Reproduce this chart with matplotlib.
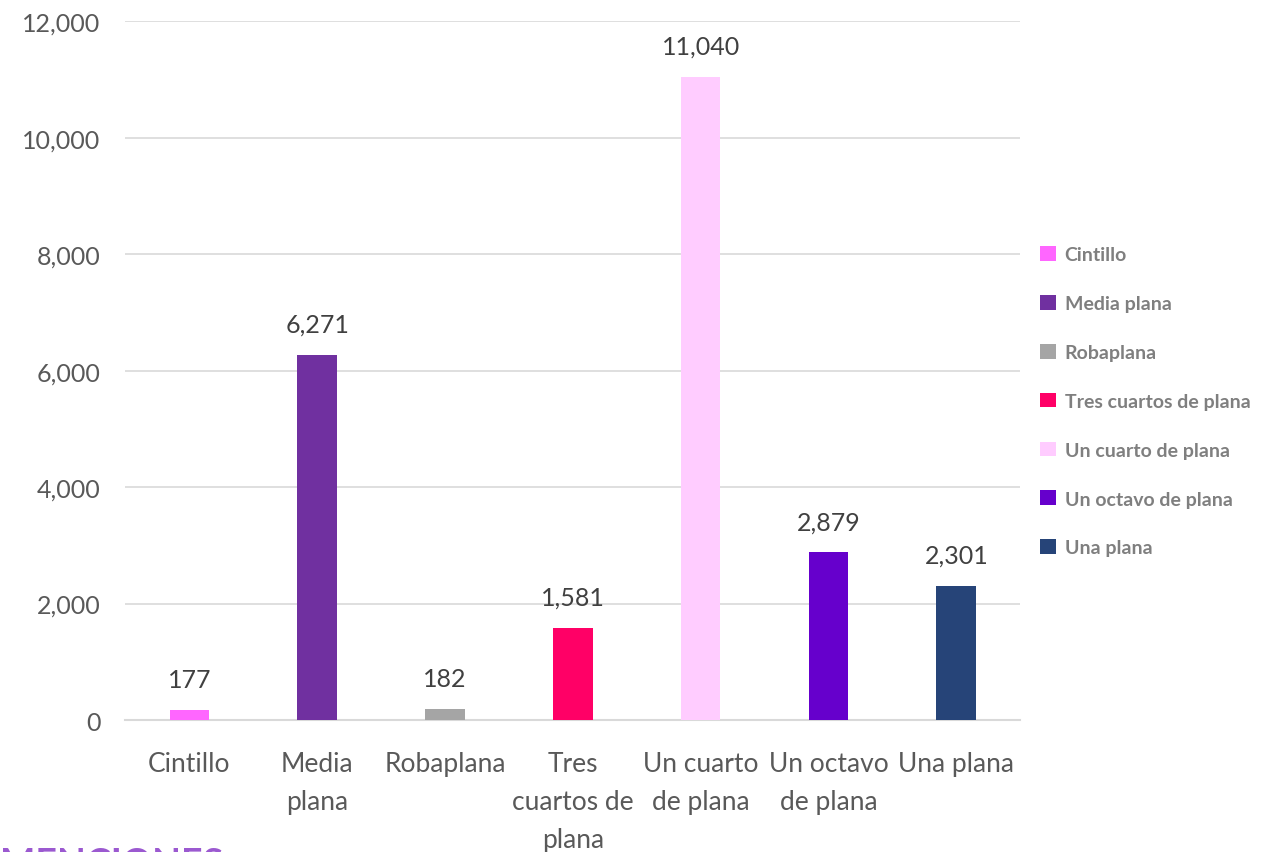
import matplotlib.pyplot as plt
from matplotlib.patches import Patch

# Data
categories = ['Cintillo', 'Media plana', 'Robaplana', 'Tres cuartos de plana',
              'Un cuarto de plana', 'Un octavo de plana', 'Una plana']
tick_labels = ['Cintillo', 'Media\nplana', 'Robaplana', 'Tres\ncuartos de\nplana',
               'Un cuarto\nde plana', 'Un octavo\nde plana', 'Una plana']
values = [177, 6271, 182, 1581, 11040, 2879, 2301]
colors = ['#FF66FF', '#7030A0', '#A5A5A5', '#FF0066', '#FFCCFF', '#6600CC', '#264478']

plt.rcParams['font.family'] = ['Lato', 'DejaVu Sans']

fig = plt.figure(figsize=(12.8, 8.53), dpi=100)
ax = fig.add_axes([0.098, 0.1547, 0.699, 0.8193])

x = range(len(categories))
bars = ax.bar(x, values, width=0.31, color=colors, zorder=3)

for xi, v in zip(x, values):
    ax.text(xi, v + 330, f'{v:,}', ha='center', va='bottom', fontsize=18, color='#404040')

ax.set_xlim(-0.5, 6.5)
ax.set_ylim(0, 12000)
ax.set_yticks(range(0, 12001, 2000))
ax.set_yticklabels([f'{t:,}' for t in range(0, 12001, 2000)], fontsize=18, color='#595959')
ax.set_xticks(list(x))
ax.set_xticklabels(tick_labels, fontsize=19, color='#595959', linespacing=1.65)
ax.tick_params(axis='x', length=0, pad=22)
ax.tick_params(axis='y', length=0, pad=18)

ax.grid(axis='y', color='#D9D9D9', linewidth=1.2, zorder=0)
for s in ['top', 'right', 'left']:
    ax.spines[s].set_visible(False)
ax.spines['bottom'].set_color('#D9D9D9')
ax.spines['bottom'].set_linewidth(1.5)

handles = [Patch(facecolor=c, label=l) for c, l in zip(colors, categories)]
leg = fig.legend(handles=handles, loc='upper left', bbox_to_anchor=(0.799, 0.731),
                 frameon=False, handlelength=0.8, handleheight=0.8, handletextpad=0.45,
                 labelspacing=1.63,
                 prop={'family': ['Lato', 'DejaVu Sans'], 'weight': 'bold', 'size': 14})
for t in leg.get_texts():
    t.set_color('#7F7F7F')

# cut-off heading at the bottom edge
fig.text(0.0, 0.006, 'MENCIONES', ha='left', va='top', fontsize=27, fontweight='bold',
         color='#9B59D0')

fig.savefig('out.png', dpi=100)
